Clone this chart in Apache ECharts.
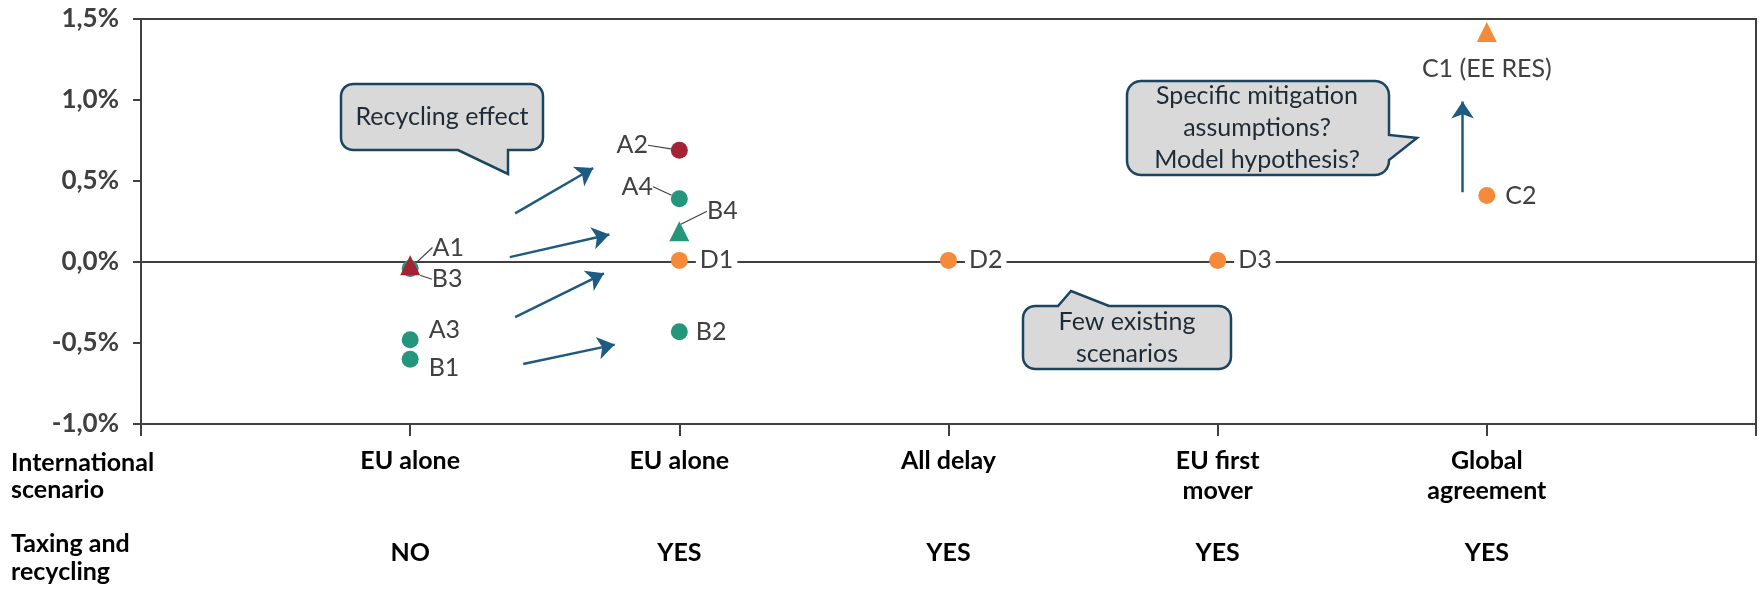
<!DOCTYPE html>
<html>
<head>
<meta charset="utf-8">
<script src="https://cdn.jsdelivr.net/npm/echarts@6/dist/echarts.min.js"></script>
<style>
html, body { margin: 0; padding: 0; background: #fff; }
#chart { width: 1759px; height: 589px; }
</style>
</head>
<body>
<div id="chart"></div>
<script>
// categories on the x axis (positions 1..5)
var scenarios = ['EU alone', 'EU alone', 'All delay', 'EU first\nmover', 'Global\nagreement'];
var taxing = ['NO', 'YES', 'YES', 'YES', 'YES'];
var yTicks = [-1.0, -0.5, 0.0, 0.5, 1.0, 1.5];

// [category position, GDP impact in %, scenario]
var greenDots = [[1, -0.04, 'A1'], [1, -0.48, 'A3'], [1, -0.60, 'B1'], [2, 0.39, 'A4'], [2, -0.43, 'B2']];
var redDots = [[2, 0.69, 'A2']];
var greenTriangles = [[2, 0.19, 'B4']];
var redTriangles = [[1, -0.02, 'B3']];
var orangeDots = [[2, 0.01, 'D1'], [3, 0.01, 'D2'], [4, 0.01, 'D3'], [5, 0.41, 'C2']];
var orangeTriangles = [[5, 1.42, 'C1 (EE RES)']];

// annotation arrows, [from, to] in axis units
var arrows = [
  [[1.39, 0.30], [1.68, 0.58]],
  [[1.37, 0.03], [1.74, 0.17]],
  [[1.39, -0.34], [1.72, -0.07]],
  [[1.42, -0.63], [1.76, -0.51]],
  [[4.91, 0.43], [4.91, 0.99]]
];

var FONT = 'Lato, "Liberation Sans", sans-serif';
var TXT = '#404040';

// where each point label sits (shift in px; leader = drawn with a guide line)
var labelSpec = {
  'A1': { shift: [38, -21], leader: true },
  'B3': { shift: [37, 14], leader: true },
  'A2': { shift: [-47, -5], leader: true },
  'A4': { shift: [-42, -12], leader: true },
  'B4': { shift: [43, -20], leader: true },
  'A3': { position: 'right', shift: [2, -10] },
  'B1': { position: 'right', shift: [2, 9] },
  'B2': { position: 'right' },
  'D1': { position: 'right', bg: true },
  'D2': { position: 'right', bg: true },
  'D3': { position: 'right', bg: true },
  'C2': { position: 'right', shift: [2, 0] },
  'C1 (EE RES)': { position: 'bottom', shift: [0, 6] }
};

function items(arr) {
  return arr.map(function (d) {
    var s = labelSpec[d[2]] || {};
    var o = { value: [d[0], d[1]], name: d[2] };
    if (s.leader) {
      o.label = { position: 'inside' };
      o.labelLine = { show: true };
    } else {
      o.label = { position: s.position };
      if (s.bg) { o.label.backgroundColor = '#fff'; o.label.padding = [0, 4]; }
    }
    return o;
  });
}

function scatter(name, arr, color, symbol, size) {
  return {
    name: name,
    type: 'scatter',
    z: 5,
    symbol: symbol,
    symbolSize: size,
    itemStyle: { color: color, opacity: 1 },
    label: {
      show: true,
      formatter: '{b}',
      color: TXT,
      fontFamily: FONT,
      fontSize: 25,
      distance: 8
    },
    labelLine: { show: false, lineStyle: { color: TXT, width: 1.2 } },
    labelLayout: function (p) {
      var s = labelSpec[p.text];
      if (s && s.shift) return { dx: s.shift[0], dy: s.shift[1] };
    },
    data: items(arr)
  };
}

function pctLabel(v) {
  return v.toFixed(1).replace('.', ',') + '%';
}

// rounded box outline with a speech-bubble tail inserted on one edge
function bubble(x0, y0, x1, y1, r, edge, tail) {
  var p = [];
  function arc(cx, cy, a0, a1) {
    for (var i = 0; i <= 6; i++) {
      var a = a0 + (a1 - a0) * i / 6;
      p.push([cx + r * Math.cos(a), cy + r * Math.sin(a)]);
    }
  }
  arc(x0 + r, y0 + r, Math.PI, 1.5 * Math.PI);
  if (edge === 'top') p.push.apply(p, tail);
  arc(x1 - r, y0 + r, -0.5 * Math.PI, 0);
  if (edge === 'right') p.push.apply(p, tail);
  arc(x1 - r, y1 - r, 0, 0.5 * Math.PI);
  if (edge === 'bottom') p.push.apply(p, tail);
  arc(x0 + r, y1 - r, 0.5 * Math.PI, Math.PI);
  return p;
}

var callouts = [
  {
    pts: bubble(341, 84, 543, 150, 12, 'bottom', [[508, 150], [508, 174], [458, 150]]),
    text: 'Recycling effect', x: 442, y: 117
  },
  {
    pts: bubble(1127, 81, 1389, 175, 14, 'right', [[1389, 135], [1417, 138], [1389, 160]]),
    text: 'Specific mitigation\nassumptions?\nModel hypothesis?', x: 1257, y: 128
  },
  {
    pts: bubble(1023, 306, 1231, 369, 12, 'top', [[1058, 306], [1071, 291], [1109, 306]]),
    text: 'Few existing\nscenarios', x: 1127, y: 338
  }
];

var graphics = [];
callouts.forEach(function (c) {
  graphics.push({
    type: 'polygon', z: 10,
    shape: { points: c.pts },
    style: { fill: '#D9D9D9', stroke: '#1B4460', lineWidth: 2.5 }
  });
  graphics.push({
    type: 'text', z: 11, x: c.x, y: c.y,
    style: {
      text: c.text, fill: '#1E2A36', font: '25px ' + FONT,
      align: 'center', verticalAlign: 'middle', lineHeight: 32
    }
  });
});
graphics.push({
  type: 'text', left: 11, top: 449,
  style: { text: 'International\nscenario', fill: '#000', font: 'bold 25px ' + FONT, lineHeight: 27 }
});
graphics.push({
  type: 'text', left: 11, top: 530,
  style: { text: 'Taxing and\nrecycling', fill: '#000', font: 'bold 25px ' + FONT, lineHeight: 28 }
});

var chart = echarts.init(document.getElementById('chart'));
chart.setOption({
  animation: false,
  backgroundColor: '#fff',
  grid: {
    left: 141, right: 3, top: 19, bottom: 165,
    show: true, borderColor: TXT, borderWidth: 2
  },
  xAxis: [{
    type: 'value', min: 0, max: 6, interval: 1,
    axisLine: { onZero: false, lineStyle: { color: TXT, width: 2 } },
    axisTick: { show: true, length: 12, lineStyle: { color: TXT, width: 2 } },
    splitLine: { show: false },
    axisLabel: {
      margin: 22, color: '#000', fontFamily: FONT, fontWeight: 'bold', fontSize: 25, lineHeight: 30,
      formatter: function (v) { return scenarios[v - 1] || ''; }
    }
  }, {
    type: 'value', min: 0, max: 6, interval: 1, position: 'bottom', offset: 100,
    axisLine: { show: false }, axisTick: { show: false }, splitLine: { show: false },
    axisLabel: {
      margin: 16, color: '#000', fontFamily: FONT, fontWeight: 'bold', fontSize: 25,
      formatter: function (v) { return taxing[v - 1] || ''; }
    }
  }],
  yAxis: {
    type: 'value', min: yTicks[0], max: yTicks[yTicks.length - 1], interval: 0.5,
    axisLine: { show: true, lineStyle: { color: TXT, width: 2 } },
    axisTick: { show: true, length: 8, lineStyle: { color: TXT, width: 2 } },
    splitLine: { show: false },
    axisLabel: {
      margin: 22, color: TXT, fontFamily: FONT, fontWeight: 'bold', fontSize: 26,
      formatter: pctLabel
    }
  },
  graphic: graphics,
  series: [
    {
      name: 'arrows', type: 'lines', coordinateSystem: 'cartesian2d', z: 3,
      symbol: ['none', 'arrow'], symbolSize: 17,
      lineStyle: { color: '#1F5A80', width: 2.5, opacity: 1, curveness: 0 },
      data: arrows.map(function (a) { return { coords: a }; }),
      markLine: {
        silent: true, symbol: ['none', 'none'],
        label: { show: false },
        lineStyle: { color: TXT, width: 2, type: 'solid' },
        data: [{ yAxis: 0 }]
      }
    },
    scatter('green', greenDots, '#23967C', 'circle', 17),
    scatter('red', redDots, '#A32535', 'circle', 17),
    scatter('greenTri', greenTriangles, '#23967C', 'triangle', 20),
    scatter('redTri', redTriangles, '#A32535', 'triangle', 20),
    scatter('orange', orangeDots, '#F58B3A', 'circle', 17),
    scatter('orangeTri', orangeTriangles, '#F58B3A', 'triangle', 20)
  ]
});
</script>
</body>
</html>
